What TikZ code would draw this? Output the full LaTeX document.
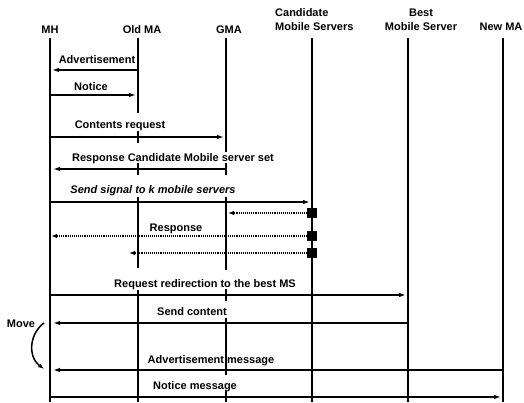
\documentclass[tikz,border=0pt]{standalone}
\usepackage{fontspec}
\setmainfont{Liberation Sans}
\usetikzlibrary{arrows.meta}
\begin{document}
\begin{tikzpicture}[x=1pt,y=-1pt,
  life/.style={line width=2.3pt},
  msg/.style={line width=1.7pt,-{Latex[length=7pt,width=4.5pt]}},
  dmsg/.style={line width=2pt,dash pattern=on 1pt off 0.9pt,-{Latex[length=6pt,width=4.5pt]}},
  lbl/.style={font=\fontsize{11}{14}\selectfont\bfseries, inner sep=0pt, anchor=base},
  sq/.style={fill=black, minimum size=10pt, inner sep=0pt}
]
\useasboundingbox (0,0) rectangle (524,403);
% headers
\node[lbl] (hMH) at (50,34) {MH};
\node[lbl] (hOMA) at (142,34) {Old MA};
\node[lbl] (hGMA) at (229,34) {GMA};
\node[lbl, align=left, anchor=base west] (hCMS) at (275,31) {Candidate\\Mobile Servers};
\node[lbl, align=center] (hBMS) at (421,31) {Best\\Mobile Server};
\node[lbl] (hNMA) at (501,31) {New MA};
% lifelines
\draw[life] (50,38) coordinate (mhT) -- (50,402) coordinate (mhB);
\draw[life] (138,38) -- (138,113);
\draw[life] (138,131) -- (138,143);
\draw[life] (138,163) -- (138,175);
\draw[life] (138,197) -- (138,268);
\draw[life] (138,290) -- (138,402);
\draw[life] (226,38) -- (226,152);
\draw[life] (226,163) -- (226,175);
\draw[life] (226,197) -- (226,270);
\draw[life] (226,289) -- (226,301);
\draw[life] (226,318) -- (226,375);
\draw[life] (226,391) -- (226,402);
\draw[life] (312,38) -- (312,402);
\draw[life] (408,38) -- (408,402);
\draw[life] (503,38) -- (503,402);
% messages
\coordinate (a1) at (137,70); \coordinate (b1) at (52,70);
\draw[msg] (a1) -- (b1);
\node[lbl] (l1) at (97,63.5) {Advertisement};
\coordinate (a2) at (51,95); \coordinate (b2) at (136,95);
\draw[msg] (a2) -- (b2);
\node[lbl] (l2) at (91,91) {Notice};
\coordinate (a3) at (51,137); \coordinate (b3) at (224,137);
\draw[msg] (a3) -- (b3);
\node[lbl] (l3) at (120,129) {Contents request};
\coordinate (a4) at (225,169); \coordinate (b4) at (53,169);
\draw[msg] (a4) -- (b4);
\node[lbl] (l4) at (173,162) {Response Candidate Mobile server set};
\coordinate (a5) at (51,202); \coordinate (b5) at (310,202);
\draw[msg] (a5) -- (b5);
\node[lbl] (l5) at (153,194) {\itshape Send signal to k mobile servers};
% squares and dotted responses
\node[sq] (s1) at (312,213) {};
\node[sq] (s2) at (312,236) {};
\node[sq] (s3) at (312,253) {};
\coordinate (b6) at (228,213);
\draw[dmsg] (s1.west) -- (b6);
\coordinate (b7) at (51,236);
\draw[dmsg] (s2.west) -- (b7);
\coordinate (b8) at (129,253);
\draw[dmsg] (s3.west) -- (b8);
\node[lbl] (l7) at (176,231) {Response};
% later messages
\coordinate (a9) at (51,295); \coordinate (b9) at (406,295);
\draw[msg] (a9) -- (b9);
\node[lbl] (l9) at (205,287) {Request redirection to the best MS};
\coordinate (a10) at (407,323); \coordinate (b10) at (53,323);
\draw[msg] (a10) -- (b10);
\node[lbl] (l10) at (192,315) {Send content};
\coordinate (a11) at (502,370); \coordinate (b11) at (53,370);
\draw[msg] (a11) -- (b11);
\node[lbl] (l11) at (211,363) {Advertisement message};
\coordinate (a12) at (51,397); \coordinate (b12) at (501,397);
\draw[msg] (a12) -- (b12);
\node[lbl] (l12) at (195,389) {Notice message};
% move
\node[lbl] (mv) at (21,327) {Move};
\coordinate (m1) at (44,323); \coordinate (m2) at (44,369);
\draw[line width=1.5pt,-{Latex[length=6pt,width=4.5pt]}] (m1) .. controls (30,333) and (27,356) .. (m2);
\end{tikzpicture}
\end{document}
